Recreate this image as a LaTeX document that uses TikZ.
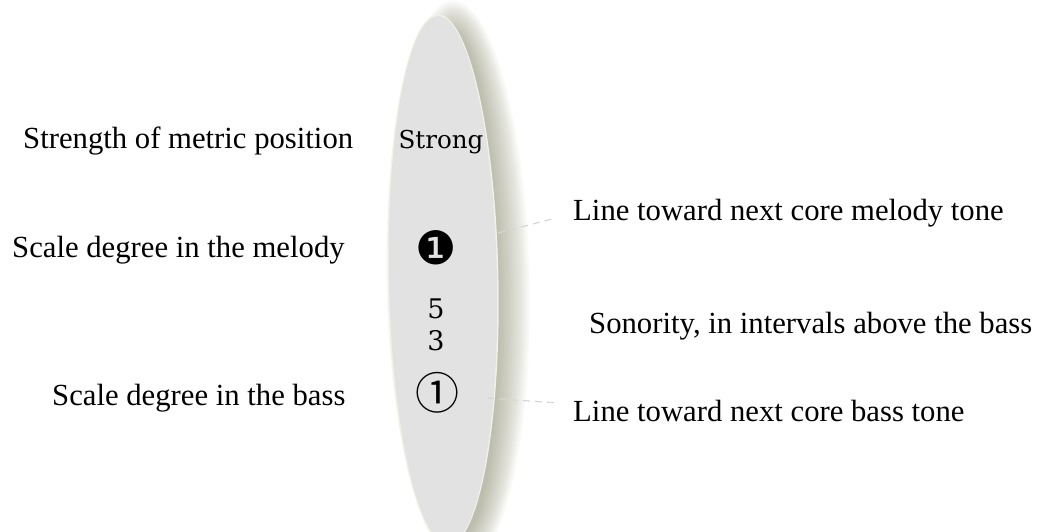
\documentclass[tikz,border=0pt]{standalone}
\usepackage{fontspec}
\setmainfont{Liberation Serif}
\newfontfamily\dvserif{DejaVu Serif}
\newfontfamily\dvsans{DejaVu Sans}
\newfontfamily\cjkjp{Noto Sans CJK JP}
\definecolor{ovalfill}{RGB}{226,226,226}
\definecolor{ovalrim}{RGB}{242,242,230}
\definecolor{shadowc}{RGB}{140,140,112}
\definecolor{dashc}{RGB}{214,214,214}
\begin{document}
\begin{tikzpicture}[x=1pt,y=-1pt,
  label/.style={font=\fontsize{30.7}{34}\selectfont, inner sep=0pt, anchor=base west},
  inlabel/.style={inner sep=0pt},
  conn/.style={draw=dashc, line width=1.2pt, dash pattern=on 7pt off 5pt}]
\useasboundingbox (0,0) rectangle (1038,531);
\coordinate (oc) at (443,280);
% soft shadow, to the right of the oval
\foreach \i in {0,...,15}{
  \fill[shadowc, opacity=0.05, rotate around={1.1:(oc)}]
    ([xshift=15,yshift=-4]oc) ellipse [x radius=40+2.1*\i, y radius=250+2.2*\i];
}
% oval
\fill[ovalrim, rotate around={1.1:(oc)}] (oc) ellipse [x radius=55.5, y radius=265.5];
\fill[ovalfill, rotate around={1.1:(oc)}] (oc) ellipse [x radius=54, y radius=264];
% texts on left
\node[label] (metric) at (23,148) {Strength of metric position};
\node[label] (melody) at (12,257) {Scale degree in the melody};
\node[label] (bass) at (52,405) {Scale degree in the bass};
% texts on right
\node[label] (lmel) at (573,220) {Line toward next core melody tone};
\node[label] (son) at (589,333) {Sonority, in intervals above the bass};
\node[label] (lbass) at (573,421) {Line toward next core bass tone};
% inside the oval
\node[inlabel, anchor=base, font=\dvserif\fontsize{24.6}{28}\selectfont] (strong) at (441,148) {Strong};
\node[inlabel, font=\dvsans\fontsize{46}{50}\selectfont] (mdeg) at (436,248) {❶};
\node[inlabel, anchor=base, font=\dvserif\fontsize{27}{30}\selectfont] (five) at (436,318) {5};
\node[inlabel, anchor=base, font=\dvserif\fontsize{27}{30}\selectfont] (three) at (436,350) {3};
\node[inlabel, font=\cjkjp\fontsize{44}{48}\selectfont] (bdeg) at (437,393) {①};
% connectors
\coordinate (m1) at (498,233);
\coordinate (m2) at (556,218);
\coordinate (b1) at (487,398);
\coordinate (b2) at (558,403);
\draw[conn] (m1) -- (m2);
\draw[conn] (b1) -- (b2);
\end{tikzpicture}
\end{document}
